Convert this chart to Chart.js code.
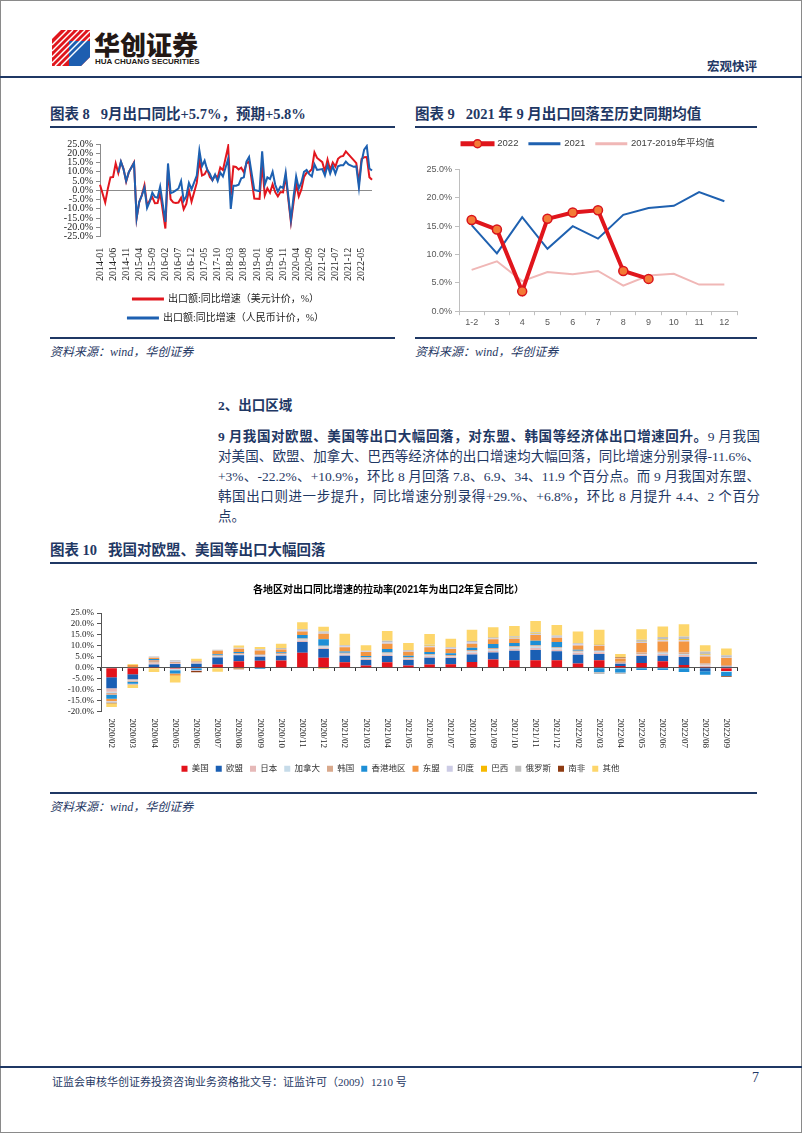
<!DOCTYPE html>
<html lang="zh">
<head>
<meta charset="UTF-8">
<title>宏观快评 - 出口</title>
<script src="https://cdn.jsdelivr.net/npm/chart.js"></script>
<style>
  html, body { margin: 0; padding: 0; background: #fff; }
  body {
    width: 802px; height: 1133px; position: relative; overflow: hidden;
    font-family: "Liberation Serif", "Noto Sans CJK SC", serif; color: #1f3864;
  }
  .frame { position: absolute; left: 0; top: 0; width: 802px; height: 1133px; box-sizing: border-box; border: 1px solid #8a8a8a; pointer-events: none; }
  .abs { position: absolute; white-space: nowrap; }
  .rule { position: absolute; background: #1f3864; }
  .ttl { font-size: 14.5px; font-weight: bold; }
  .src { font-size: 12px; font-style: italic; }
  .para { position: absolute; font-size: 13.5px; line-height: 20px; }
  .para .jl { text-align: justify; text-align-last: justify; }
  canvas { position: absolute; }
</style>
</head>
<body>
  <div class="frame"></div>

  <!-- header -->
  <svg class="abs" style="left:52px;top:30px" width="38" height="36" viewBox="0 0 38 36">
    <polygon points="0,9 9,0 38,0 38,27 29,36 0,36" fill="#e0161d"/>
    <polygon points="17,11 38,11 38,27 29,36 17,36" fill="#1d5eb0"/>
    <g stroke="#fff" stroke-width="1.4">
      <line x1="0" y1="15" x2="15" y2="0"/><line x1="0" y1="21" x2="21" y2="0"/>
      <line x1="0" y1="27" x2="27" y2="0"/><line x1="0" y1="33" x2="33" y2="0"/>
      <line x1="3" y1="36" x2="38" y2="1"/><line x1="9" y1="36" x2="38" y2="7"/>
    </g>
  </svg>
  <div class="abs" style="left:94px;top:30px;line-height:28px;font-family:'Noto Sans CJK SC';font-weight:900;font-size:26px;color:#231815">华创证券</div>
  <div class="abs" style="left:95px;top:57px;font-family:'Liberation Sans';font-weight:bold;font-size:8px;color:#231815">HUA CHUANG SECURITIES</div>
  <div class="abs" style="left:707px;top:56px;font-size:12.5px;font-weight:bold;color:#1f3864">宏观快评</div>
  <div class="rule" style="left:0;top:76px;width:802px;height:2px"></div>

  <!-- chart 8 / 9 titles -->
  <div class="abs ttl" style="left:50px;top:102px">图表 8&nbsp;&nbsp; 9月出口同比+5.7%，预期+5.8%</div>
  <div class="rule" style="left:50px;top:126px;width:345px;height:2px"></div>
  <div class="abs ttl" style="left:415px;top:102px">图表 9&nbsp;&nbsp; 2021 年 9 月出口回落至历史同期均值</div>
  <div class="rule" style="left:415px;top:126px;width:342px;height:2px"></div>

  <canvas id="c8" width="360" height="197" style="left:40px;top:135px"></canvas>
  <canvas id="c9" width="380" height="195" style="left:410px;top:135px"></canvas>

  <div class="rule" style="left:50px;top:337px;width:345px;height:1.5px"></div>
  <div class="rule" style="left:415px;top:337px;width:342px;height:1.5px"></div>
  <div class="abs src" style="left:50px;top:342px">资料来源：wind，华创证券</div>
  <div class="abs src" style="left:415px;top:342px">资料来源：wind，华创证券</div>

  <!-- text -->
  <div class="abs" style="left:218px;top:394px;font-size:13.5px;font-weight:bold">2、出口区域</div>
  <div class="para" style="left:218px;top:427px;width:542px">
    <div class="jl"><b>9 月我国对欧盟、美国等出口大幅回落，对东盟、韩国等经济体出口增速回升。</b>9 月我国</div>
    <div class="jl">对美国、欧盟、加拿大、巴西等经济体的出口增速均大幅回落，同比增速分别录得-11.6%、</div>
    <div class="jl">+3%、-22.2%、+10.9%，环比 8 月回落 7.8、6.9、34、11.9 个百分点。而 9 月我国对东盟、</div>
    <div class="jl">韩国出口则进一步提升，同比增速分别录得+29.%、+6.8%，环比 8 月提升 4.4、2 个百分</div>
    <div>点。</div>
  </div>

  <!-- chart 10 -->
  <div class="abs ttl" style="left:50px;top:538px">图表 10&nbsp;&nbsp; 我国对欧盟、美国等出口大幅回落</div>
  <div class="rule" style="left:50px;top:562px;width:707px;height:2px"></div>
  <canvas id="c10" width="720" height="207" style="left:40px;top:575px"></canvas>
  <div class="rule" style="left:50px;top:792px;width:707px;height:1.5px"></div>
  <div class="abs src" style="left:50px;top:797px">资料来源：wind，华创证券</div>

  <!-- footer -->
  <div class="rule" style="left:0;top:1066px;width:802px;height:2px"></div>
  <div class="abs" style="left:52px;top:1073px;font-size:11px">证监会审核华创证券投资咨询业务资格批文号：证监许可（2009）1210 号</div>
  <div class="abs" style="left:752px;top:1070px;font-size:14px">7</div>

<script>
  const SERIF = '"Liberation Serif", "Noto Sans CJK SC", serif';
  const SANS = '"Liberation Sans", "Noto Sans CJK SC", sans-serif';
  Chart.defaults.font.family = SERIF;

  // nudge a legend after layout, without touching the plot area
  function legendShift(dx, dy) {
    return {
      id: 'legendShift',
      afterLayout(chart) {
        const lg = chart.legend;
        if (!lg) return;
        lg.left += dx; lg.right += dx;
        lg.top += dy; lg.bottom += dy;
      }
    };
  }

  // ---------- chart 8: monthly export yoy, 2014-01 .. 2022-09 ----------
  const years8 = [2014, 2015, 2016, 2017, 2018, 2019, 2020, 2021, 2022];
  const months8 = [];
  years8.forEach(y => {
    for (let m = 1; m <= 12; m++) {
      if (y === 2022 && m > 9) break;
      months8.push(y + '-' + String(m).padStart(2, '0'));
    }
  });

  // USD based (Jan left empty where only Jan-Feb combined is published)
  const usdYoY = [
    3.0, null, -6.6, 0.9, 7.0, 7.2, 14.5, 9.4, 15.3, 11.6, 4.7, 9.7,
    null, 15.0, -15.0, -6.4, -2.5, 2.8, -8.3, -5.5, -3.7, -6.9, -6.8, -1.4,
    null, -20.6, 11.5, -4.8, -6.5, -6.8, -6.6, -4.0, -10.2, -7.3, 0.1, -6.1,
    null, 4.0, 16.4, 8.0, 8.7, 11.3, 7.2, 5.5, 8.1, 6.9, 12.3, 10.9,
    null, 23.7, -2.7, 12.9, 12.6, 11.3, 12.2, 9.8, 14.5, 15.6, 5.4, -4.4,
    null, -4.6, 14.2, -2.7, 1.1, -1.3, 3.3, -1.0, -3.2, -0.9, -1.1, 7.6,
    null, -17.2, -6.6, 3.5, -3.3, 0.5, 7.2, 9.5, 9.9, 11.4, 20.5, 17.5,
    null, 15.2, 10.2, 16.6, 11.0, 15.0, 12.8, 17.0, 18.2, 18.6, 21.0, 19.4,
    null, 16.3, 14.7, 3.9, 16.9, 17.9, 18.0, 7.1, 5.7
  ];
  // RMB based
  const cnyYoY = [
    null, null, null, null, null, null, null, 9.6, 15.5, 11.4, 5.0, 9.8,
    null, 14.8, -15.0, -6.2, -2.8, 1.5, -9.5, -6.1, -1.3, -3.6, -4.0, 2.0,
    null, -17.0, 14.5, -1.5, -1.0, 0.0, 1.0, 5.0, -5.6, -3.2, 4.0, 0.6,
    null, 8.0, 21.5, 13.0, 16.0, 11.0, 9.0, 5.5, 8.5, 5.0, 9.5, 7.5,
    null, 17.0, -10.0, 2.5, 2.5, 3.0, 6.5, 7.0, 15.5, 18.0, 9.0, 0.2,
    null, -0.5, 21.0, 3.0, 7.0, 6.1, 10.0, 3.0, -0.7, 2.0, 1.3, 9.5,
    null, -16.0, -3.5, 7.5, 1.0, 4.3, 10.0, 11.0, 8.7, 7.5, 14.0, 11.0,
    null, 11.5, 8.0, 13.5, 9.0, 13.0, 9.0, 13.0, 13.5, 13.5, 15.5, 14.0,
    null, 12.7, 12.9, 1.5, 15.3, 22.0, 23.9, 11.8, 10.7
  ];

  new Chart(document.getElementById('c8'), {
    type: 'line',
    data: {
      labels: months8,
      datasets: [
        { label: '出口额:同比增速（美元计价，%）', data: usdYoY, order: 1,
          borderColor: '#e2161e', backgroundColor: '#e2161e', borderWidth: 2,
          pointRadius: 0, spanGaps: true, tension: 0 },
        { label: '出口额:同比增速（人民币计价，%）', data: cnyYoY, order: 0,
          borderColor: '#1d60b1', backgroundColor: '#1d60b1', borderWidth: 2,
          pointRadius: 0, spanGaps: true, tension: 0 }
      ]
    },
    options: {
      responsive: false, animation: false,
      layout: { padding: { top: 8, right: 28, bottom: 0, left: 0 } },
      plugins: {
        tooltip: { enabled: false },
        legend: {
          position: 'bottom',
          labels: {
            boxWidth: 30, boxHeight: 1, padding: 9, color: '#222',
            font: { size: 10, family: SERIF },
            sort: (a, b) => a.datasetIndex - b.datasetIndex
          }
        }
      },
      scales: {
        x: {
          grid: { display: false }, border: { display: false },
          ticks: {
            autoSkip: false, minRotation: 90, maxRotation: 90, padding: 3,
            color: '#222', font: { size: 10 },
            callback: (v, i) => (i % 5 === 0 ? months8[i] : '')
          }
        },
        y: {
          min: -25, max: 25,
          afterFit: s => { s.width = 60; },
          ticks: { stepSize: 5, autoSkip: false, color: '#222', font: { size: 10 }, padding: 3,
                   callback: v => v.toFixed(1) + '%' },
          grid: { color: c => (c.tick && c.tick.value === 0 ? '#8c8c8c' : 'transparent'),
                  tickColor: '#8c8c8c', tickLength: 4 },
          border: { color: '#8c8c8c' }
        }
      }
    },
    plugins: [legendShift(20, 1)]
  });

  // ---------- chart 9: monthly yoy by calendar month ----------
  const months9 = ['1-2', '3', '4', '5', '6', '7', '8', '9', '10', '11', '12'];
  const yoy2022 = [16.1, 14.4, 3.5, 16.3, 17.4, 17.8, 7.1, 5.7, null, null, null];
  const yoy2021 = [15.2, 10.2, 16.6, 11.0, 15.0, 12.8, 17.0, 18.2, 18.6, 21.0, 19.4];
  const avg1719 = [7.3, 8.8, 5.3, 6.9, 6.5, 7.1, 4.5, 6.3, 6.6, 4.7, 4.7];

  const legendMarker = {
    id: 'legendMarker',
    afterDraw(chart) {
      const lg = chart.legend;
      if (!lg || !lg.legendHitBoxes || !lg.legendHitBoxes.length) return;
      const hb = lg.legendHitBoxes[0];
      const bw = lg.options.labels.boxWidth;
      const ctx = chart.ctx;
      ctx.save();
      ctx.beginPath();
      ctx.arc(hb.left + bw / 2, hb.top + hb.height / 2, 4, 0, Math.PI * 2);
      ctx.fillStyle = '#f47a36';
      ctx.fill();
      ctx.lineWidth = 1.5;
      ctx.strokeStyle = '#d9141c';
      ctx.stroke();
      ctx.restore();
    }
  };

  new Chart(document.getElementById('c9'), {
    type: 'line',
    data: {
      labels: months9,
      datasets: [
        { label: '2022', data: yoy2022, borderColor: '#e0151c', backgroundColor: '#e0151c',
          borderWidth: 4, pointRadius: 4.5, pointBackgroundColor: '#f47a36',
          pointBorderColor: '#d9141c', pointBorderWidth: 1.5, tension: 0 },
        { label: '2021', data: yoy2021, borderColor: '#1f61b0', backgroundColor: '#1f61b0',
          borderWidth: 2, pointRadius: 0, tension: 0 },
        { label: '2017-2019年平均值', data: avg1719, borderColor: '#f0b7b6', backgroundColor: '#f0b7b6',
          borderWidth: 2, pointRadius: 0, tension: 0 }
      ]
    },
    options: {
      responsive: false, animation: false,
      layout: { padding: { top: 4, right: 53, bottom: 0, left: 0 } },
      plugins: {
        tooltip: { enabled: false },
        legend: {
          position: 'top',
          labels: { boxWidth: 30, boxHeight: 1, padding: 11, color: '#404040',
                    font: { size: 9.5, family: SANS } }
        }
      },
      scales: {
        x: {
          offset: true,
          grid: { offset: true, drawOnChartArea: false, color: '#bfbfbf', tickLength: 4 },
          border: { color: '#bfbfbf' },
          ticks: { color: '#595959', font: { size: 9, family: SANS }, padding: 2 }
        },
        y: {
          min: 0, max: 25,
          afterFit: s => { s.width = 49; },
          ticks: { stepSize: 5, autoSkip: false, color: '#595959', font: { size: 9, family: SANS }, padding: 3,
                   callback: v => v.toFixed(1) + '%' },
          grid: { drawOnChartArea: false, color: '#bfbfbf', tickLength: 4 },
          border: { color: '#bfbfbf' }
        }
      }
    },
    plugins: [legendShift(15, -11), legendMarker]
  });

  // ---------- chart 10: contribution by region, stacked ----------
  const months10 = [
    '2020/02', '2020/03', '2020/04', '2020/05', '2020/06', '2020/07', '2020/08', '2020/09', '2020/10', '2020/11', '2020/12',
    '2021/02', '2021/03', '2021/04', '2021/05', '2021/06', '2021/07', '2021/08', '2021/09', '2021/10', '2021/11', '2021/12',
    '2022/02', '2022/03', '2022/04', '2022/05', '2022/06', '2022/07', '2022/08', '2022/09'
  ];
  const usPull     = [-4.4, -3.0, 0.3, -0.5, 0.3, 1.5, 3.0, 3.2, 3.3, 6.8, 4.5, 2.5, 1.0, 2.5, 1.0, 1.5, 1.6, 2.6, 3.8, 3.4, 3.4, 3.4, 1.9, 3.4, 0.8, 2.2, 2.9, 1.2, 0.3, -1.5];
  const euPull     = [-5.0, -2.3, 1.2, 1.7, 1.5, 3.2, 2.7, 1.8, 2.2, 5.0, 4.0, 3.0, 2.5, 2.8, 2.5, 3.0, 2.8, 3.4, 3.2, 4.4, 4.7, 4.1, 4.0, 2.9, 1.0, 3.1, 2.6, 3.7, -1.6, 0.4];
  const jpPull     = [-1.6, -0.5, 0.5, 0.4, 0.3, 0.3, 0.3, 0.5, 0.4, 0.6, 0.6, 0.5, 0.5, 0.7, 0.5, 0.7, 0.6, 0.9, 0.8, 0.8, 0.9, 0.8, 0.9, 0.8, 0.4, 0.6, 0.8, 0.9, 0.6, 0.3];
  const caPull     = [-0.6, -0.3, 0.3, -0.6, 0.2, 0.3, 0.3, 0.3, 0.3, 0.5, 0.6, 0.4, 0.4, 0.5, 0.4, 0.5, 0.4, 0.7, 0.7, 0.6, 0.7, 0.6, 0.5, 0.5, -0.4, 0.4, 0.5, 0.5, 0.5, -0.3];
  const krPull     = [-0.8, -0.3, 1.2, 0.5, 0.5, 0.4, 0.4, 0.5, 0.5, 0.5, 0.3, 0.4, 0.4, 0.5, 0.5, 0.5, 0.4, 0.5, 0.5, 0.6, 0.6, 0.5, 0.5, 0.5, 0.5, 0.6, 0.5, 0.6, 0.6, 0.5];
  const hkPull     = [-1.8, -0.9, 0.5, -1.5, -1.0, 0.5, 0.5, -0.6, 0.4, 1.6, 3.0, 0.6, 0.6, 1.5, 0.6, 1.0, 0.8, 1.0, 1.8, 1.5, 2.0, 2.3, 0.4, -2.0, -1.8, -1.0, -1.0, -2.0, -1.6, -2.0];
  const aseanPull  = [-1.0, 1.2, 0.6, -1.0, 0.3, 1.5, 1.5, 1.6, 1.2, 1.6, 2.5, 2.0, 1.8, 2.5, 1.8, 2.2, 2.0, 1.9, 2.2, 1.9, 2.6, 2.0, 1.9, 1.9, 1.5, 4.4, 4.7, 5.1, 3.1, 3.2];
  const inPull     = [-0.3, -0.2, 0.2, 0.3, -0.4, 0.2, 0.2, 0.3, 0.3, 0.5, 0.5, 0.4, 0.3, 0.5, 0.3, 0.4, 0.3, 0.6, 0.5, 0.5, 0.5, 0.5, 0.6, 0.5, 0.2, 0.4, 0.6, 0.6, 0.6, 0.4];
  const brPull     = [-0.2, 0.3, -0.3, -0.3, 0, -0.3, -0.4, 0, 0, 0, -0.5, 0, 0, 0, 0, 0.3, 0, 0, 0.2, 0.2, 0.2, 0, 0, 0.3, 0, 0.2, 0.3, 0.4, 0.3, 0.1];
  const ruPull     = [-0.3, -0.2, 0.3, 0.5, 0, 0.3, 0.2, 0.3, 0.4, 0.5, 0.6, 0.5, 0.3, 0.8, 0.4, 0.4, 0.4, 0.6, 0.3, 0.5, 0.6, 0.5, 0.5, -0.9, -0.7, 0.9, 1.1, 1.3, 1.4, 0.8];
  const zaPull     = [-0.2, -0.1, -0.1, 0, -0.7, 0, -0.3, 0, 0, 0, 0, 0, 0, 0, 0, 0, 0, 0, 0, 0, 0, 0, 0, 0, 0.3, 0, 0, 0, 0, -0.3];
  const otherPull  = [-1.8, -1.5, -1.5, -2.8, 1.0, -1.5, 1.0, 1.0, 2.0, 3.2, 2.1, 5.2, 2.5, 4.5, 3.3, 4.9, 3.9, 5.1, 4.5, 4.7, 5.2, 4.8, 5.4, 6.5, 1.6, 4.8, 4.8, 5.6, 2.9, 3.1];

  const regions = [
    ['美国', usPull, '#e3131b'],
    ['欧盟', euPull, '#1a5fb4'],
    ['日本', jpPull, '#e6b9b8'],
    ['加拿大', caPull, '#c6dbe9'],
    ['韩国', krPull, '#d9a98c'],
    ['香港地区', hkPull, '#1e8fd6'],
    ['东盟', aseanPull, '#f39642'],
    ['印度', inPull, '#cccbe5'],
    ['巴西', brPull, '#f6b900'],
    ['俄罗斯', ruPull, '#bfbfbf'],
    ['南非', zaPull, '#8e3b12'],
    ['其他', otherPull, '#fdd66b']
  ];

  // month labels on the bottom axis read top-to-bottom
  const downLabels = {
    id: 'downLabels',
    afterDraw(chart) {
      const s = chart.scales.x2;
      const ctx = chart.ctx;
      ctx.save();
      ctx.font = '9px ' + SERIF;
      ctx.fillStyle = '#222';
      ctx.textAlign = 'left';
      ctx.textBaseline = 'middle';
      s.ticks.forEach((t, i) => {
        ctx.save();
        ctx.translate(s.getPixelForTick(i), s.top + 7);
        ctx.rotate(Math.PI / 2);
        ctx.fillText(months10[i], 0, 0);
        ctx.restore();
      });
      ctx.restore();
    }
  };

  new Chart(document.getElementById('c10'), {
    type: 'bar',
    data: {
      labels: months10,
      datasets: regions.map(r => ({
        label: r[0], data: r[1], backgroundColor: r[2], borderWidth: 0,
        categoryPercentage: 1, barPercentage: 0.5
      }))
    },
    options: {
      responsive: false, animation: false,
      layout: { padding: { top: 0, right: 23, bottom: 3, left: 0 } },
      plugins: {
        tooltip: { enabled: false },
        title: {
          display: true,
          text: '各地区对出口同比增速的拉动率(2021年为出口2年复合同比）',
          color: '#000', font: { size: 10, weight: 'bold', family: SANS },
          padding: { top: 9, bottom: 17 }
        },
        legend: {
          position: 'bottom',
          labels: { boxWidth: 6, boxHeight: 6, padding: 7, color: '#333',
                    font: { size: 8.5, family: SERIF } }
        }
      },
      scales: {
        x: {
          position: { y: 0 }, stacked: true, offset: true,
          grid: { offset: true, drawOnChartArea: false, color: '#333', tickLength: 3 },
          border: { color: '#555' },
          ticks: { display: false }
        },
        x2: {
          type: 'category', position: 'bottom', offset: true,
          afterFit: s => { s.height = 42; },
          grid: { display: false }, border: { display: false },
          ticks: { display: false }
        },
        y: {
          stacked: true, min: -20, max: 25,
          afterFit: s => { s.width = 61; },
          ticks: { stepSize: 5, autoSkip: false, color: '#222', font: { size: 9 }, padding: 3,
                   callback: v => v.toFixed(1) + '%' },
          grid: { drawOnChartArea: false, color: '#555', tickLength: 4 },
          border: { color: '#555' }
        }
      }
    },
    plugins: [legendShift(12, 4), downLabels]
  });
</script>
</body>
</html>
